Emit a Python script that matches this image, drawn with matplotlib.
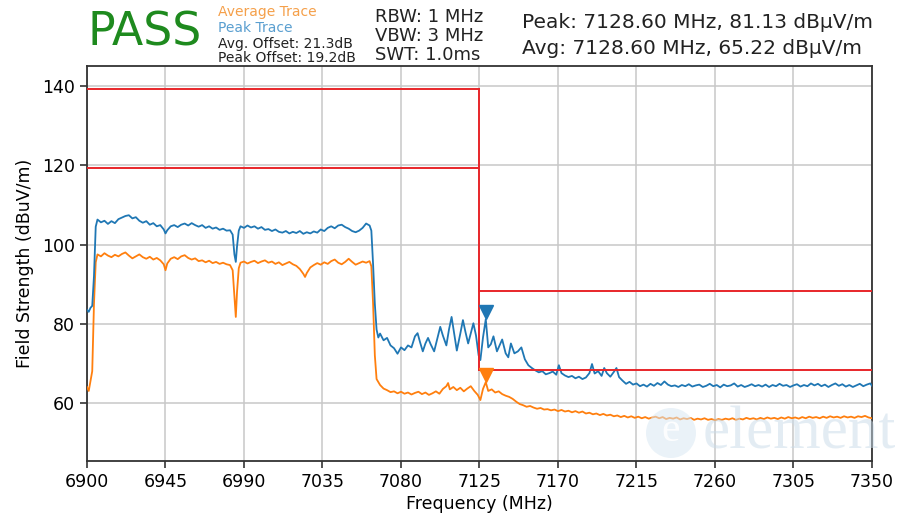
import matplotlib
matplotlib.use("Agg")
import matplotlib.pyplot as plt
import matplotlib.transforms as mtransforms
from matplotlib.patches import Circle

# ---------------- data ----------------
peak_freq = [6900, 6901, 6902, 6903, 6904, 6905, 6906, 6908, 6910, 6912, 6914, 6916, 6918, 6920,
             6922, 6924, 6926, 6928, 6930, 6932, 6934, 6936, 6938, 6940, 6942, 6944, 6945, 6946,
             6948, 6950, 6952, 6954, 6956, 6958, 6960, 6962, 6964, 6966, 6968, 6970, 6972, 6974,
             6976, 6978, 6980, 6982, 6983.5, 6984.5, 6985.3, 6986, 6987, 6988, 6990, 6992, 6994,
             6996, 6998, 7000, 7002, 7004, 7006, 7008, 7010, 7012, 7014, 7016, 7018, 7020, 7022,
             7024, 7026, 7028, 7030, 7032, 7034, 7036, 7038, 7040, 7042, 7044, 7046, 7048, 7050,
             7052, 7054, 7056, 7058, 7060, 7062, 7063, 7064, 7065, 7066, 7067, 7068, 7070, 7072,
             7074, 7076, 7078, 7080, 7082, 7084, 7086, 7088, 7089.5, 7091, 7092.5, 7094, 7095.5,
             7097, 7099, 7101, 7102.5, 7104, 7106, 7107.5, 7109, 7110.5, 7112, 7114, 7115.5, 7117,
             7118.5, 7120, 7121.5, 7123, 7124.5, 7125.5, 7127, 7128.6, 7130, 7131.5, 7133, 7135,
             7136.5, 7138, 7140, 7141.5, 7143, 7145, 7147, 7149, 7151, 7153, 7155, 7157, 7159,
             7161, 7163, 7165, 7167, 7169, 7170.5, 7172, 7174, 7176, 7178, 7180, 7182, 7184, 7186,
             7188, 7189.5, 7191, 7193, 7195, 7196.5, 7198, 7200, 7202, 7203.5, 7205, 7207, 7209,
             7211, 7213, 7215, 7217, 7219, 7221, 7223, 7225, 7227, 7229, 7231, 7233, 7235, 7237,
             7239, 7241, 7243, 7245, 7247, 7249, 7251, 7253, 7255, 7257, 7259, 7261, 7263, 7265,
             7267, 7269, 7271, 7273, 7275, 7277, 7279, 7281, 7283, 7285, 7287, 7289, 7291, 7293,
             7295, 7297, 7299, 7301, 7303, 7305, 7307, 7309, 7311, 7313, 7315, 7317, 7319, 7321,
             7323, 7325, 7327, 7329, 7331, 7333, 7335, 7337, 7339, 7341, 7343, 7345, 7347, 7349,
             7350]
peak_vals = [83.5, 83.0, 84.0, 84.5, 92.0, 104.5, 106.3, 105.6, 106.0, 105.2, 105.9, 105.4, 106.4, 106.8,
             107.2, 107.4, 106.6, 106.9, 106.0, 105.5, 105.9, 105.0, 105.4, 104.6, 104.9, 103.8, 102.8, 103.6,
             104.6, 104.9, 104.4, 105.0, 105.3, 104.8, 105.4, 104.9, 104.5, 104.9, 104.2, 104.6, 104.0, 104.3,
             103.7, 104.0, 103.5, 103.6, 102.5, 97.5, 95.6, 99.5, 103.5, 104.6, 104.2, 104.8, 104.3,
             104.6, 104.0, 104.4, 103.7, 103.9, 103.4, 103.8, 103.2, 103.0, 103.4, 102.8, 103.2, 102.9, 103.4,
             102.7, 103.1, 102.8, 103.3, 103.0, 103.8, 103.4, 104.2, 104.6, 104.1, 104.8, 105.0, 104.4, 104.0,
             103.4, 103.1, 103.5, 104.2, 105.3, 104.8, 103.5, 95.0, 85.0, 78.5, 76.5, 77.5, 75.8, 76.4,
             74.5, 73.8, 72.4, 74.0, 73.3, 74.5, 74.0, 76.8, 77.6, 75.2, 73.0, 75.0, 76.4,
             74.8, 73.0, 76.5, 79.2, 77.0, 74.5, 78.5, 81.7, 77.5, 73.2, 77.5, 80.9, 77.8,
             75.0, 77.6, 80.1, 77.0, 72.0, 70.8, 76.5, 81.13, 74.0, 74.8, 76.8, 73.0,
             74.5, 76.0, 72.5, 71.5, 75.0, 72.5, 73.0, 74.0, 71.0, 69.5, 68.8, 68.2, 67.7,
             68.0, 67.2, 67.5, 67.9, 67.1, 69.5, 67.5, 66.9, 66.5, 66.8, 66.2, 66.6, 66.0, 66.4,
             67.5, 69.8, 67.4, 68.0, 66.8, 68.8, 67.5, 66.6, 67.8, 68.8, 66.5, 65.6, 64.8,
             65.3, 64.6, 64.9, 64.2, 64.6, 64.1, 64.8, 64.3, 65.0, 64.5, 65.4, 64.6, 64.2, 64.4,
             64.0, 64.5, 64.2, 64.7, 64.1, 64.4, 64.6, 64.0, 64.3, 64.8, 64.2, 64.5, 63.9, 64.6,
             64.2, 64.4, 64.9, 64.1, 64.5, 64.0, 64.3, 64.7, 64.2, 64.5, 64.1, 64.6, 64.0, 64.5,
             64.2, 64.8, 64.3, 64.5, 64.0, 64.4, 64.7, 64.1, 64.5, 64.2, 64.9, 64.4, 64.8, 64.2,
             64.6, 64.0, 64.5, 64.9, 64.3, 64.7, 64.1, 64.5, 64.0, 64.4, 64.8, 64.2, 64.6, 64.9,
             64.3]

avg_freq = [6900, 6901, 6902, 6903, 6904, 6905, 6906, 6908, 6910, 6912, 6914, 6916, 6918, 6920,
            6922, 6924, 6926, 6928, 6930, 6932, 6934, 6936, 6938, 6940, 6942, 6944, 6945, 6946,
            6948, 6950, 6952, 6954, 6956, 6958, 6960, 6962, 6964, 6966, 6968, 6970, 6972, 6974,
            6976, 6978, 6980, 6982, 6983.5, 6984.5, 6985.3, 6986, 6987, 6988, 6990, 6992, 6994,
            6996, 6998, 7000, 7002, 7004, 7006, 7008, 7010, 7012, 7014, 7016, 7018, 7020, 7022,
            7024, 7025, 7026, 7028, 7030, 7032, 7034, 7036, 7038, 7040, 7042, 7044, 7046, 7048,
            7050, 7052, 7054, 7056, 7058, 7060, 7062, 7063, 7064, 7065, 7066, 7068, 7070, 7072,
            7074, 7076, 7078, 7080, 7082, 7084, 7086, 7088, 7090, 7092, 7094, 7096, 7098, 7100,
            7102, 7104, 7106, 7107, 7108, 7110, 7112, 7114, 7116, 7118, 7120, 7122, 7124, 7125.5,
            7127, 7128.6, 7130, 7132, 7134, 7136, 7138, 7140, 7142, 7144, 7146, 7148, 7150, 7152,
            7154, 7156, 7158, 7160, 7162, 7164, 7166, 7168, 7170, 7172, 7174, 7176, 7178, 7180,
            7182, 7184, 7186, 7188, 7190, 7192, 7194, 7196, 7198, 7200, 7202, 7204, 7206, 7208,
            7210, 7212, 7214, 7216, 7218, 7220, 7222, 7224, 7226, 7228, 7230, 7232, 7234, 7236,
            7238, 7240, 7242, 7244, 7246, 7248, 7250, 7252, 7254, 7256, 7258, 7260, 7262, 7264,
            7266, 7268, 7270, 7272, 7274, 7276, 7278, 7280, 7282, 7284, 7286, 7288, 7290, 7292,
            7294, 7296, 7298, 7300, 7302, 7304, 7306, 7308, 7310, 7312, 7314, 7316, 7318, 7320,
            7322, 7324, 7326, 7328, 7330, 7332, 7334, 7336, 7338, 7340, 7342, 7344, 7346, 7348,
            7350]
avg_vals = [64.0, 63.0, 65.5, 68.0, 85.0, 95.5, 97.5, 97.0, 97.8, 97.2, 96.8, 97.4, 97.0, 97.6,
            98.0, 97.2, 96.5, 97.0, 97.5, 96.8, 96.4, 96.9, 96.2, 96.6, 96.0, 95.0, 93.5, 95.2,
            96.4, 96.8, 96.3, 97.0, 97.3, 96.6, 96.2, 96.5, 95.8, 96.0, 95.5, 95.9, 95.3, 95.6,
            95.1, 95.4, 95.0, 94.8, 93.5, 87.0, 81.7, 88.0, 94.0, 95.4, 95.7, 95.2, 95.6,
            95.9, 95.3, 95.7, 96.0, 95.4, 95.7, 95.1, 95.5, 94.8, 95.2, 95.6, 95.0, 94.6, 93.8,
            92.6, 91.8, 92.8, 94.2, 94.8, 95.3, 94.9, 95.5, 95.1, 95.8, 96.2, 95.4, 95.0, 95.6,
            96.4, 95.6, 94.9, 95.3, 95.7, 95.4, 95.8, 94.5, 85.0, 72.0, 66.0, 64.5, 63.6, 63.2,
            62.7, 62.9, 62.4, 62.8, 62.3, 62.6, 62.1, 62.5, 62.8, 62.2, 62.6, 62.0, 62.4, 62.9,
            62.3, 63.5, 64.2, 65.0, 63.4, 64.0, 63.2, 63.8, 62.9, 63.6, 64.2, 63.0, 62.0, 60.7,
            63.5, 65.22, 63.0, 63.4, 62.6, 62.9, 62.2, 61.8, 61.5, 61.0, 60.3, 59.7, 59.4, 59.0,
            59.2, 58.8, 58.5, 58.7, 58.3, 58.4, 58.1, 58.3, 57.9, 58.2, 57.8, 58.0, 57.6, 57.9,
            57.5, 57.8, 57.3, 57.5, 57.1, 57.3, 56.9, 57.2, 56.8, 57.0, 56.6, 56.8, 56.4, 56.7,
            56.3, 56.6, 56.2, 56.5, 56.1, 56.4, 56.0, 56.3, 56.5, 56.1, 56.4, 55.9, 56.2, 56.0,
            56.3, 55.8, 56.1, 55.9, 56.2, 55.7, 56.0, 55.8, 56.1, 55.7, 55.9, 55.6, 55.9, 55.7,
            56.0, 55.8, 56.1, 55.7, 56.0, 55.8, 56.2, 55.9, 56.1, 55.8, 56.2, 55.9, 56.3, 56.0,
            56.2, 55.9, 56.3, 56.0, 56.4, 56.1, 56.3, 56.0, 56.4, 56.1, 56.5, 56.2, 56.4, 56.1,
            56.5, 56.2, 56.6, 56.3, 56.5, 56.2, 56.6, 56.3, 56.5, 56.2, 56.6, 56.4, 56.7, 56.3,
            56.1]

# limit lines: (start MHz, end MHz, level)
limit_start = [6900, 6900, 7125, 7125]
limit_end = [7125, 7125, 7350, 7350]
limit_level = [139.2, 119.3, 88.3, 68.4]
limit_step_freq = 7125

marker_freq = 7128.60
peak_marker_val = 81.13
avg_marker_val = 65.22

x_ticks = [6900, 6945, 6990, 7035, 7080, 7125, 7170, 7215, 7260, 7305, 7350]
y_ticks = [60, 80, 100, 120, 140]

BLUE = "#1f77b4"
ORANGE = "#ff7f0e"

# ---------------- figure ----------------
fig = plt.figure(figsize=(9.15, 5.21), dpi=100)
ax = fig.add_axes([87 / 915, 1 - 461 / 521, (872 - 87) / 915, (461 - 66) / 521])

ax.plot(avg_freq, avg_vals, color=ORANGE, lw=1.3, zorder=3)
ax.plot(peak_freq, peak_vals, color=BLUE, lw=1.3, zorder=3)

for s, e, lv in zip(limit_start, limit_end, limit_level):
    ax.plot([s, e], [lv, lv], color="#e8262a", lw=1.4, zorder=4)
ax.plot([limit_step_freq, limit_step_freq], [max(limit_level), min(limit_level)],
        color="#e8262a", lw=1.4, zorder=4)

off = mtransforms.offset_copy(ax.transData, fig=fig, x=0, y=7, units="dots")
ax.plot([marker_freq], [peak_marker_val], marker="v", ms=10, color=BLUE, transform=off, zorder=5)
ax.plot([marker_freq], [avg_marker_val], marker="v", ms=10, color=ORANGE, transform=off, zorder=5)

ax.set_xlim(6900, 7350)
ax.set_ylim(45.3, 145.1)
ax.set_xticks(x_ticks)
ax.set_yticks(y_ticks)
ax.grid(True, color="#c8c8c8", lw=1.1)
ax.set_axisbelow(True)
for sp in ax.spines.values():
    sp.set_color("#333333")
    sp.set_linewidth(1.3)
ax.tick_params(labelsize=12.5, length=5, width=1.2, color="#333333")
ax.set_xlabel("Frequency (MHz)", fontsize=12.5, labelpad=3)
ax.set_ylabel("Field Strength (dBuV/m)", fontsize=12.5, labelpad=6)

# watermark (faint logo, lower right)
circ = Circle((671, 521 - 433), 25, transform=None, facecolor="#d9e8f3", edgecolor="none",
              alpha=0.55, zorder=6)
fig.patches.append(circ)
fig.text(671 / 915, 1 - 431 / 521, "e", fontsize=30, color="white", ha="center", va="center",
         family="Liberation Serif", alpha=0.9, zorder=7)
fig.text(703 / 915, 1 - 434 / 521, "element", fontsize=44, color="#c9dbe9", ha="left",
         va="center", family="Liberation Serif", alpha=0.5, zorder=7)

# header texts
fig.text(88 / 915, 1 - 33 / 521, "PASS", fontsize=33, color="#1e8a1e", ha="left", va="center")
fig.text(218 / 915, 1 - 12 / 521, "Average Trace", fontsize=10, color="#f5a04a", ha="left", va="center")
fig.text(218 / 915, 1 - 28 / 521, "Peak Trace", fontsize=10, color="#5a9fd0", ha="left", va="center")
fig.text(218 / 915, 1 - 44 / 521, "Avg. Offset: 21.3dB", fontsize=10, color="#222222", ha="left", va="center")
fig.text(218 / 915, 1 - 58 / 521, "Peak Offset: 19.2dB", fontsize=10, color="#222222", ha="left", va="center")
fig.text(375 / 915, 1 - 17 / 521, "RBW: 1 MHz", fontsize=13, color="#222222", ha="left", va="center")
fig.text(375 / 915, 1 - 36 / 521, "VBW: 3 MHz", fontsize=13, color="#222222", ha="left", va="center")
fig.text(375 / 915, 1 - 55 / 521, "SWT: 1.0ms", fontsize=13, color="#222222", ha="left", va="center")
fig.text(522 / 915, 1 - 23 / 521, "Peak: 7128.60 MHz, 81.13 dBµV/m", fontsize=14.5, color="#222222",
         ha="left", va="center")
fig.text(522 / 915, 1 - 48 / 521, "Avg: 7128.60 MHz, 65.22 dBµV/m", fontsize=14.5, color="#222222",
         ha="left", va="center")

fig.savefig("out.png", dpi=100)
